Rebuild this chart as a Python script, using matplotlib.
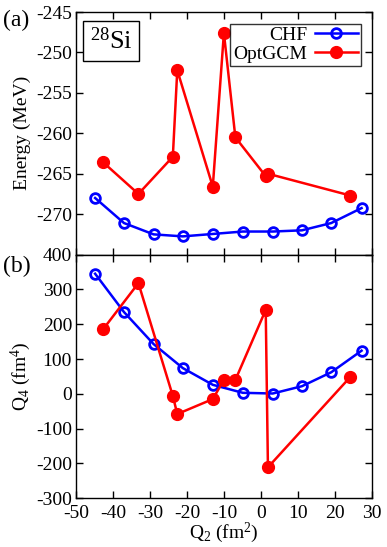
import matplotlib
matplotlib.use("Agg")
import matplotlib.pyplot as plt
from matplotlib.ticker import MultipleLocator

plt.rcParams['font.family'] = ['Liberation Serif', 'DejaVu Serif']
plt.rcParams['mathtext.fontset'] = 'custom'
plt.rcParams['mathtext.rm'] = 'Liberation Serif'
plt.rcParams['mathtext.it'] = 'Liberation Serif:italic'
plt.rcParams['axes.unicode_minus'] = False

# CHF data
chf_q2 = [-44.9, -37.1, -29.1, -21.2, -13.1, -5.0, 3.1, 11.0, 18.9, 27.1]
chf_e = [-268.0, -271.1, -272.5, -272.75, -272.45, -272.15, -272.15, -272.0, -271.1, -269.25]
chf_q4 = [345, 235, 143, 74, 26, 3, 1, 22, 62, 124]

# OptGCM data
gcm_q2 = [-42.7, -33.2, -23.9, -22.7, -13.1, -10.1, -7.0, 1.2, 1.8, 24.1]
gcm_e = [-263.6, -267.5, -262.9, -252.2, -266.6, -247.6, -260.5, -265.3, -265.0, -267.7]
gcm_q4 = [186, 318, -6, -58, -15, 40, 40, 241, -211, 49]

fig = plt.figure(figsize=(3.87, 5.47), dpi=100)
L, R = 0.197, 0.962
ax1 = fig.add_axes([L, 0.5346, R - L, 0.978 - 0.5346])
ax2 = fig.add_axes([L, 0.089, R - L, 0.5346 - 0.089])

fs = 14
for ax in (ax1, ax2):
    ax.tick_params(direction='in', top=True, right=True, length=5, width=1, labelsize=fs, pad=3)
    ax.tick_params(axis='x', pad=5)
    ax.xaxis.set_major_locator(MultipleLocator(10))
    ax.set_xlim(-50, 30)
    for s in ax.spines.values():
        s.set_linewidth(1)

# Top panel
ax1.plot(chf_q2, chf_e, '-o', color='blue', mfc='none', mec='blue', ms=7, mew=2, lw=1.8, label='CHF')
ax1.plot(gcm_q2, gcm_e, '-o', color='red', mfc='red', mec='red', ms=8.5, lw=1.8, label='OptGCM')
ax1.set_ylim(-275, -245)
ax1.set_yticks([-270, -265, -260, -255, -250, -245])
ax1.set_yticklabels(['-270', '-265', '-260', '-255', '-250', '-245'])
ax1.tick_params(labelbottom=False)
ax1.set_ylabel('Energy (MeV)', fontsize=fs, labelpad=4)
leg = ax1.legend(loc='upper right', markerfirst=False, fontsize=fs, frameon=True, fancybox=False,
                 edgecolor='black', handlelength=2.2, borderpad=0.15, labelspacing=0.05,
                 handletextpad=0.4, borderaxespad=0.6)
leg.get_frame().set_linewidth(1)
ax1.text(0.045, 0.935, r'$^{28}$Si', transform=ax1.transAxes, fontsize=19, va='top', ha='left',
         bbox=dict(boxstyle='square,pad=0.25', fc='white', ec='black', lw=1))
fig.text(0.008, 0.962, '(a)', fontsize=17, va='center', ha='left')

# Bottom panel
ax2.plot(chf_q2, chf_q4, '-o', color='blue', mfc='none', mec='blue', ms=7, mew=2, lw=1.8)
ax2.plot(gcm_q2, gcm_q4, '-o', color='red', mfc='red', mec='red', ms=8.5, lw=1.8)
ax2.set_ylim(-300, 400)
ax2.yaxis.set_major_locator(MultipleLocator(100))
ax2.set_ylabel(r'Q$_4$ (fm$^4$)', fontsize=fs, labelpad=2)
ax2.set_xlabel(r'Q$_2$ (fm$^2$)', fontsize=fs, labelpad=-1)
fig.text(0.008, 0.513, '(b)', fontsize=17, va='center', ha='left')

fig.savefig('out.png', dpi=100)
